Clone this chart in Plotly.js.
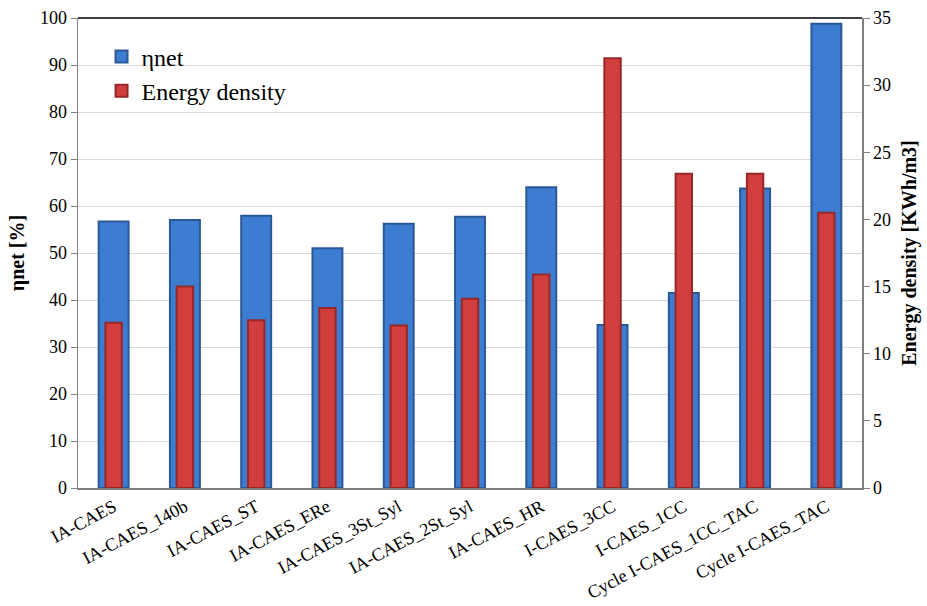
<!DOCTYPE html>
<html>
<head>
<meta charset="utf-8">
<script src="https://cdn.plot.ly/plotly-3.0.1.min.js"></script>
<style>html,body{margin:0;padding:0;background:#fff;}#chart{width:927px;height:606px;}</style>
</head>
<body>
<div id="chart"></div>
<script>
const categories = ["IA-CAES", "IA-CAES_140b", "IA-CAES_ST", "IA-CAES_ERe", "IA-CAES_3St_Syl", "IA-CAES_2St_Syl", "IA-CAES_HR", "I-CAES_3CC", "I-CAES_1CC", "Cycle I-CAES_1CC_TAC", "Cycle I-CAES_TAC"];
const etaNet = [56.7, 57.0, 57.9, 51.0, 56.2, 57.7, 64.0, 34.7, 41.5, 63.7, 98.8];
const energyDensity = [12.3, 15.0, 12.5, 13.4, 12.1, 14.1, 15.9, 32.0, 23.4, 23.4, 20.5];

const font = "Liberation Serif";

const traces = [
  {
    type: "bar", name: "ηnet", x: categories, y: etaNet, yaxis: "y",
    width: 0.42,
    marker: {color: "#3C7DD2", line: {color: "#2A5896", width: 2}}
  },
  {
    type: "bar", name: "Energy density", x: categories, y: energyDensity, yaxis: "y2",
    width: 0.23,
    marker: {color: "#D03E3E", line: {color: "#982828", width: 2}}
  }
];

const layout = {
  width: 927, height: 606,
  margin: {l: 78, r: 65, t: 18, b: 118},
  paper_bgcolor: "#fff", plot_bgcolor: "#fff",
  barmode: "overlay",
  font: {family: font, size: 18, color: "#000"},
  showlegend: true,
  legend: {x: 0.03, y: 0.965, xanchor: "left", yanchor: "top", font: {family: font, size: 24, color: "#000"}, bgcolor: "rgba(0,0,0,0)"},
  xaxis: {
    type: "category", tickangle: -28, showline: true, linecolor: "#808080", linewidth: 1.5,
    ticks: "", tickfont: {family: font, size: 18, color: "#000"}, showgrid: false
  },
  yaxis: {
    range: [0, 100], dtick: 10, showline: true, linecolor: "#808080", linewidth: 1.5,
    ticks: "outside", ticklen: 6, tickcolor: "#808080", gridcolor: "#D9D9D9", gridwidth: 1,
    tickfont: {family: font, size: 18, color: "#000"}, zeroline: false,
    title: {text: "<b>ηnet [%]</b>", font: {family: font, size: 20, color: "#000"}, standoff: 10}
  },
  yaxis2: {
    range: [0, 35], dtick: 5, overlaying: "y", side: "right", showline: true, linecolor: "#808080", linewidth: 1.5,
    ticks: "outside", ticklen: 6, tickcolor: "#808080", showgrid: false, zeroline: false,
    tickfont: {family: font, size: 18, color: "#000"},
    title: {text: "<b>Energy density [KWh/m3]</b>", font: {family: font, size: 20, color: "#000"}, standoff: 12}
  },
  shapes: [
    {type: "line", xref: "paper", yref: "paper", x0: 0, x1: 1, y0: 1, y1: 1, line: {color: "#000", width: 1.5}}
  ]
};

Plotly.newPlot("chart", traces, layout, {displayModeBar: false, staticPlot: true});
</script>
</body>
</html>
